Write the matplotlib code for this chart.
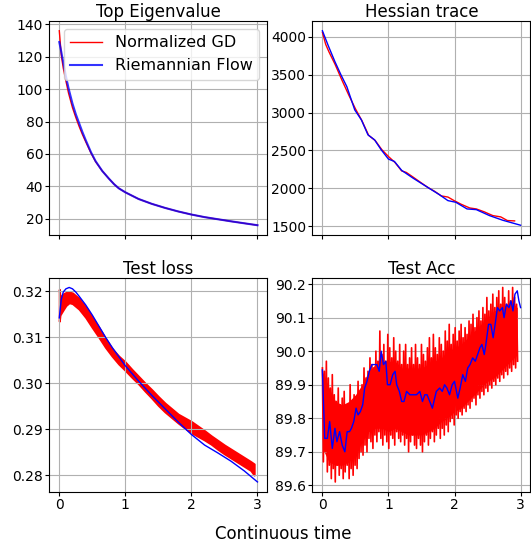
import numpy as np
import matplotlib
matplotlib.use('Agg')
import matplotlib.pyplot as plt

# top eigenvalue
eig_t = [0, 0.03, 0.06, 0.1, 0.14, 0.2, 0.25, 0.3, 0.35, 0.4, 0.48, 0.55, 0.65, 0.75,
         0.83, 0.9, 1.0, 1.2, 1.4, 1.6, 1.8, 2.0, 2.2, 2.4, 2.6, 2.8, 3.0]
eig_gd = [136, 121, 113, 105, 97.5, 88.5, 82.5, 77, 72, 67.5, 60.5, 55.2, 49.5, 44.8,
          41.3, 38.8, 36.3, 32.2, 29.2, 26.7, 24.5, 22.6, 21.0, 19.7, 18.4, 17.2, 16]
eig_rf = [129, 123, 116.5, 108, 100.5, 91, 84.5, 79, 73.5, 68.5, 61, 55.5, 49.5, 44.8,
          41.3, 38.8, 36.3, 32.2, 29.2, 26.7, 24.5, 22.6, 21.0, 19.7, 18.4, 17.2, 16]

# hessian trace
tr_t_rf = [0, 0.09, 0.19, 0.28, 0.37, 0.49, 0.59, 0.69, 0.79, 0.89, 1.0, 1.09, 1.2,
           1.37, 1.57, 1.77, 1.9, 2.02, 2.19, 2.33, 2.53, 2.73, 3.0]
tr_rf = [4080, 3880, 3671, 3500, 3342, 3035, 2904, 2706, 2640, 2509, 2386, 2355, 2237,
         2136, 2026, 1917, 1838, 1816, 1728, 1719, 1640, 1579, 1513]
tr_t_gd = [0, 0.05, 0.1, 0.19, 0.3, 0.4, 0.5, 0.6, 0.7, 0.8, 0.9, 1.0, 1.1, 1.2, 1.27,
           1.37, 1.5, 1.6, 1.7, 1.8, 1.9, 2.0, 2.1, 2.23, 2.33, 2.45, 2.58, 2.7, 2.8, 2.91]
tr_gd = [4060, 3900, 3800, 3640, 3420, 3230, 3050, 2890, 2700, 2630, 2510, 2420, 2340,
         2230, 2210, 2150, 2070, 2010, 1960, 1900, 1885, 1835, 1790, 1741, 1728, 1690,
         1640, 1623, 1575, 1570]

# test loss
loss_t_rf = [0, 0.03, 0.06, 0.1, 0.15, 0.2, 0.25, 0.3, 0.4, 0.5, 0.6, 0.7, 0.8, 0.9,
             1.0, 1.2, 1.4, 1.6, 1.8, 2.0, 2.2, 2.4, 2.6, 2.8, 3.0]
loss_rf = [0.3142, 0.3182, 0.3198, 0.3205, 0.3208, 0.3205, 0.3198, 0.3189, 0.3170,
           0.3148, 0.3124, 0.3100, 0.3078, 0.3058, 0.3038, 0.3005, 0.2974, 0.2945,
           0.2916, 0.2889, 0.2866, 0.2849, 0.2831, 0.2810, 0.2786]
loss_t_gd = [0, 0.01, 0.03, 0.06, 0.1, 0.15, 0.2, 0.3, 0.4, 0.5, 0.6, 0.7, 0.8, 0.9,
             1.0, 1.1, 1.2, 1.3, 1.4, 1.5, 1.6, 1.7, 1.8, 1.9, 2.0, 2.1, 2.2, 2.3,
             2.4, 2.5, 2.6, 2.7, 2.8, 2.9, 2.95]
loss_gd_hi = [0.3204, 0.3186, 0.3189, 0.3194, 0.3197, 0.3198, 0.3196, 0.3184, 0.3165,
              0.3143, 0.3121, 0.3097, 0.3075, 0.3059, 0.3046, 0.3030, 0.3015, 0.3000,
              0.2986, 0.2971, 0.2957, 0.2945, 0.2933, 0.2925, 0.2917, 0.2907, 0.2897,
              0.2886, 0.2876, 0.2866, 0.2857, 0.2848, 0.2839, 0.2830, 0.2825]
loss_gd_lo = [0.3135, 0.3148, 0.3153, 0.3160, 0.3169, 0.3175, 0.3173, 0.3161, 0.3143,
              0.3121, 0.3100, 0.3078, 0.3059, 0.3042, 0.3028, 0.3013, 0.2999, 0.2983,
              0.2968, 0.2952, 0.2938, 0.2926, 0.2914, 0.2903, 0.2893, 0.2885, 0.2877,
              0.2868, 0.2857, 0.2847, 0.2838, 0.2829, 0.2820, 0.2811, 0.2801]

# test acc
acc_t_rf = [0, 0.035, 0.075, 0.11, 0.15, 0.19, 0.22, 0.26, 0.3, 0.34, 0.375, 0.41, 0.44,
            0.475, 0.51, 0.54, 0.575, 0.61, 0.64, 0.675, 0.71, 0.75, 0.79, 0.825, 0.86,
            0.89, 0.925, 0.96, 0.985, 1.025, 1.065, 1.1, 1.125, 1.165, 1.2, 1.235,
            1.275, 1.325, 1.375, 1.425, 1.475, 1.515, 1.55, 1.585, 1.625, 1.665, 1.7,
            1.725, 1.775, 1.815, 1.85, 1.885, 1.925, 1.965, 2.0, 2.05, 2.085, 2.125,
            2.165, 2.2, 2.235, 2.275, 2.315, 2.35, 2.385, 2.415, 2.45, 2.475, 2.515,
            2.55, 2.585, 2.615, 2.65, 2.685, 2.725, 2.75, 2.785, 2.825, 2.855, 2.885,
            2.915, 2.95, 2.975, 3.0]
acc_rf = [89.944, 89.74, 89.74, 89.79, 89.71, 89.77, 89.73, 89.76, 89.72, 89.70, 89.76,
          89.76, 89.77, 89.79, 89.83, 89.81, 89.82, 89.84, 89.89, 89.91, 89.94, 89.96,
          89.96, 89.96, 89.94, 90.00, 89.96, 89.97, 89.90, 89.90, 89.93, 89.94, 89.90,
          89.88, 89.85, 89.85, 89.88, 89.87, 89.87, 89.87, 89.88, 89.85, 89.87, 89.87,
          89.85, 89.83, 89.86, 89.88, 89.89, 89.88, 89.90, 89.89, 89.87, 89.90, 89.91,
          89.86, 89.89, 89.93, 89.91, 89.95, 89.96, 89.98, 89.97, 89.99, 90.01, 90.02,
          89.99, 90.02, 90.08, 90.08, 90.04, 90.08, 90.13, 90.12, 90.13, 90.10, 90.14,
          90.13, 90.15, 90.12, 90.17, 90.18, 90.15, 90.13]

# dense core of the normalized GD accuracy band
acc_core_t = [0, 0.1, 0.2, 0.3, 0.4, 0.5, 0.6, 0.7, 0.8, 0.9, 1.0, 1.1, 1.2, 1.3, 1.4,
              1.5, 1.6, 1.7, 1.8, 1.9, 2.0, 2.1, 2.2, 2.3, 2.4, 2.5, 2.6, 2.7, 2.8,
              2.9, 2.95]
acc_core_hi = [89.94, 89.89, 89.85, 89.84, 89.85, 89.87, 89.90, 89.94, 89.96, 89.97,
               89.97, 89.97, 89.95, 89.95, 89.95, 89.95, 89.96, 89.97, 89.98, 90.00,
               90.01, 90.02, 90.04, 90.06, 90.08, 90.10, 90.12, 90.13, 90.14, 90.14,
               90.13]
acc_core_lo = [89.71, 89.67, 89.66, 89.66, 89.67, 89.70, 89.73, 89.76, 89.77, 89.77,
               89.76, 89.77, 89.76, 89.75, 89.75, 89.75, 89.76, 89.77, 89.79, 89.80,
               89.82, 89.83, 89.85, 89.87, 89.89, 89.91, 89.92, 89.94, 89.96, 89.98,
               89.99]
# spike tips, one high then one low every 0.03
acc_spike_hi = [89.95, 89.94, 89.97, 89.92, 89.89, 89.93, 89.87, 89.85, 89.89, 89.84,
                89.86, 89.88, 89.83, 89.84, 89.90, 89.85, 89.87, 89.86, 89.91, 89.88,
                89.90, 89.95, 89.92, 89.94, 89.98, 89.96, 89.95, 90.00, 89.97, 90.06,
                89.99, 90.02, 89.97, 90.05, 90.01, 89.98, 90.04, 90.00, 89.97, 90.02,
                89.96, 90.00, 90.02, 89.96, 89.98, 90.01, 89.96, 90.02, 89.98, 89.96,
                90.02, 89.99, 89.97, 90.01, 90.04, 89.98, 90.05, 90.01, 89.99, 90.04,
                90.02, 90.00, 90.06, 90.03, 90.08, 90.02, 90.05, 90.07, 90.03, 90.06,
                90.08, 90.04, 90.07, 90.05, 90.09, 90.08, 90.11, 90.07, 90.10, 90.12,
                90.09, 90.13, 90.11, 90.16, 90.12, 90.14, 90.17, 90.13, 90.16, 90.18,
                90.14, 90.19, 90.16, 90.14, 90.18, 90.15, 90.19, 90.16, 90.14]
acc_spike_lo = [89.67, 89.70, 89.64, 89.66, 89.62, 89.65, 89.61, 89.66, 89.63, 89.65,
                89.62, 89.64, 89.66, 89.62, 89.65, 89.63, 89.66, 89.65, 89.68, 89.70,
                89.69, 89.72, 89.70, 89.74, 89.73, 89.71, 89.75, 89.73, 89.76, 89.74,
                89.72, 89.75, 89.73, 89.71, 89.75, 89.74, 89.72, 89.76, 89.74, 89.73,
                89.75, 89.72, 89.74, 89.70, 89.73, 89.75, 89.72, 89.71, 89.74, 89.72,
                89.70, 89.73, 89.75, 89.72, 89.74, 89.76, 89.73, 89.75, 89.77, 89.74,
                89.77, 89.75, 89.78, 89.76, 89.79, 89.80, 89.78, 89.81, 89.80, 89.82,
                89.81, 89.83, 89.82, 89.84, 89.83, 89.85, 89.86, 89.84, 89.87, 89.86,
                89.88, 89.87, 89.89, 89.88, 89.90, 89.89, 89.91, 89.90, 89.92, 89.91,
                89.93, 89.92, 89.94, 89.93, 89.95, 89.94, 89.96, 89.95, 89.97]

fig, axes = plt.subplots(2, 2, sharex=True, figsize=(5.31, 5.46), dpi=100)
fig.subplots_adjust(left=0.093, right=0.999, bottom=0.0995, top=0.9615,
                    wspace=0.207, hspace=0.2)

ax = axes[0, 0]
ax.plot(eig_t, eig_gd, color='red', lw=1, label='Normalized GD')
ax.plot(eig_t, eig_rf, color='blue', lw=1.5, alpha=0.8, label='Riemannian Flow')
ax.set_title('Top Eigenvalue', fontsize=12, pad=3)
ax.legend(loc='upper right', fontsize=11.5)

ax = axes[0, 1]
ax.plot(tr_t_gd, tr_gd, color='red', lw=1)
ax.plot(tr_t_rf, tr_rf, color='blue', lw=1)
ax.set_title('Hessian trace', fontsize=12, pad=3)

ax = axes[1, 0]
ax.fill_between(loss_t_gd, loss_gd_lo, loss_gd_hi, color='red', lw=1.5)
ax.plot(loss_t_rf, loss_rf, color='blue', lw=1)
ax.set_title('Test loss', fontsize=12, pad=3)

ax = axes[1, 1]
n = len(acc_spike_hi)
t_hi = np.arange(n) * 0.03
t_lo = t_hi + 0.015
acc_t_gd = np.column_stack([t_hi, t_lo]).ravel()
acc_gd = np.column_stack([acc_spike_hi, acc_spike_lo]).ravel()
ax.fill_between(acc_core_t, acc_core_lo, acc_core_hi, color='red', lw=0)
ax.plot(acc_t_gd, acc_gd, color='red', lw=1.2)
ax.plot(acc_t_rf, acc_rf, color='blue', lw=1)
ax.set_title('Test Acc', fontsize=12, pad=3)

for ax in axes.flat:
    ax.grid(True)
    ax.set_xticks([0, 1, 2, 3])
    ax.tick_params(labelsize=10, length=3, pad=1.5)

fig.supxlabel('Continuous time', x=0.534, y=0.005, fontsize=12)
fig.savefig('out.png', dpi=100)
